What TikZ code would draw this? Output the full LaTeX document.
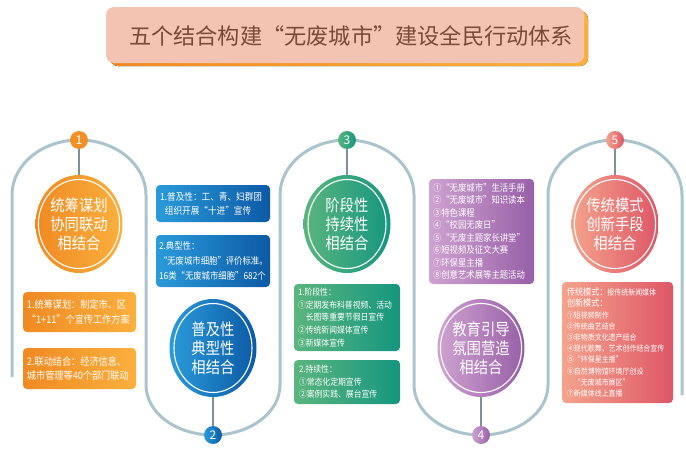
\documentclass[tikz,border=0pt]{standalone}
\usepackage{fontspec}
\setmainfont{Noto Sans CJK SC}
\newfontfamily\cjk[FakeStretch=0.88]{Noto Sans CJK SC}
\newfontfamily\cjkt{Noto Sans CJK SC}
\usetikzlibrary{shapes.geometric}
\definecolor{snakec}{HTML}{A9C4CC}
\definecolor{linkc}{HTML}{7F9196}
\definecolor{titlefill}{HTML}{F3C4B2}
\definecolor{titletext}{HTML}{7A4A38}
\definecolor{oraL}{HTML}{F08A22}
\definecolor{oraR}{HTML}{FAB03E}
\definecolor{bluL}{HTML}{2A9BDA}
\definecolor{bluR}{HTML}{0C5AA5}
\definecolor{grnL}{HTML}{5BB57E}
\definecolor{grnR}{HTML}{15967F}
\definecolor{purL}{HTML}{CFA2D0}
\definecolor{purR}{HTML}{9760A7}
\definecolor{redL}{HTML}{F4A38C}
\definecolor{redR}{HTML}{DE5767}
\tikzset{
  snake/.style={draw=snakec, line width=3pt},
  numc/.style={circle, minimum size=18pt, inner sep=0pt, text=white, font=\cjkt\fontsize{12}{12}\selectfont},
  bigc/.style={ellipse, minimum width=87pt, minimum height=98pt, inner sep=0pt},
  ring/.style={ellipse, draw=white, line width=1.1pt, minimum width=78pt, minimum height=89pt, inner sep=0pt, text=white, align=center, font=\cjk\fontsize{16.3}{18.8}\selectfont},
  box/.style={rounded corners=4pt, inner sep=0pt},
  btext/.style={anchor=west, text=white, align=left, inner sep=0pt},
  link/.style={draw=linkc, line width=1.2pt}
}
\begin{document}
\begin{tikzpicture}[x=1pt,y=-1pt]
\useasboundingbox (0,0) rectangle (686,455);
% title
\fill[left color=oraL, right color=oraR, rounded corners=8pt] (110,11) rectangle (588,66);
\node[box, rounded corners=8pt, fill=titlefill, minimum width=478pt, minimum height=56pt] (title) at (345,35) {};
\node[text=titletext, font=\cjkt\fontsize{22.2}{24}\selectfont, inner sep=0pt] at (351,36) {五个结合构建“无废城市”建设全民行动体系};
% snake line
\path[snake] (12,377) -- (12,195)
  arc[start angle=180, end angle=360, x radius=67, y radius=55]
  -- (146,385)
  arc[start angle=180, end angle=0, x radius=67, y radius=50]
  -- (280,195)
  arc[start angle=180, end angle=360, x radius=67, y radius=55]
  -- (414,385)
  arc[start angle=180, end angle=0, x radius=67, y radius=50]
  -- (548,195)
  arc[start angle=180, end angle=360, x radius=67, y radius=55]
  -- (682,395);
% number circles
\node[numc, fill=oraL!85!oraR] (n1) at (79,140) {1};
\node[numc, left color=bluL, right color=bluR] (n2) at (213,435) {2};
\node[numc, left color=grnL, right color=grnR] (n3) at (347,140) {3};
\node[numc, left color=purL, right color=purR] (n4) at (481,435) {4};
\node[numc, left color=redL, right color=redR] (n5) at (615,140) {5};
% big circles
\node[bigc, left color=oraL, right color=oraR] (c1) at (79,224) {};
\node[ring] at (c1) {统筹谋划\\协同联动\\相结合};
\node[bigc, left color=bluL, right color=bluR] (c2) at (213,348) {};
\node[ring] at (c2) {普及性\\典型性\\相结合};
\node[bigc, left color=grnL, right color=grnR] (c3) at (347,224) {};
\node[ring] at (c3) {阶段性\\持续性\\相结合};
\node[bigc, left color=purL, right color=purR] (c4) at (481,348) {};
\node[ring] at (c4) {教育引导\\氛围营造\\相结合};
\node[bigc, left color=redL, right color=redR] (c5) at (615,224) {};
\node[ring] at (c5) {传统模式\\创新手段\\相结合};
% links
\draw[link] (n1.south) -- (c1.north);
\draw[link] (c2.south) -- (n2.north);
\draw[link] (n3.south) -- (c3.north);
\draw[link] (c4.south) -- (n4.north);
\draw[link] (n5.south) -- (c5.north);
% column 1 boxes
\node[box, left color=oraL, right color=oraR, minimum width=113pt, minimum height=40pt] (b11) at (79.5,312) {};
\node[btext, font=\cjk\fontsize{10.4}{14.7}\selectfont] at ([xshift=4pt]b11.west) {1.统筹谋划：制定市、区\\“1+11”个宣传工作方案};
\node[box, left color=oraL, right color=oraR, minimum width=113pt, minimum height=41pt] (b12) at (79.5,368.5) {};
\node[btext, font=\cjk\fontsize{10.4}{14.7}\selectfont] at ([xshift=4pt]b12.west) {2.联动结合：经济信息、\\城市管理等40个部门联动};
% column 2 boxes
\node[box, left color=bluL, right color=bluR, minimum width=114pt, minimum height=37pt] (b21) at (213,203.5) {};
\node[btext, font=\cjk\fontsize{9.8}{14.3}\selectfont] at ([xshift=4pt]b21.west) {1.普及性：工、青、妇群团\\\hspace{0.5em}组织开展“十进”宣传};
\node[box, left color=bluL, right color=bluR, minimum width=114pt, minimum height=52pt] (b22) at (213,261) {};
\node[btext, font=\cjk\fontsize{9.5}{14.7}\selectfont] at ([xshift=3pt]b22.west) {2.典型性：\\“无废城市细胞”评价标准。\\16类“无废城市细胞”682个};
% column 3 boxes
\node[box, left color=grnL, right color=grnR, minimum width=106pt, minimum height=67pt] (b31) at (347,317.5) {};
\node[btext, font=\cjk\fontsize{8.9}{12.7}\selectfont] at ([xshift=4pt]b31.west) {1.阶段性：\\①定期发布科普视频、活动\\\phantom{①}长图等重要节假日宣传\\②传统新闻媒体宣传\\③新媒体宣传};
\node[box, left color=grnL, right color=grnR, minimum width=106pt, minimum height=44pt] (b32) at (347,382) {};
\node[btext, font=\cjk\fontsize{8.9}{12.5}\selectfont] at ([xshift=5pt]b32.west) {2.持续性：\\①常态化定期宣传\\②案例实践、展台宣传};
% column 4 box
\node[box, left color=purL, right color=purR, minimum width=105pt, minimum height=105pt] (b41) at (481.5,231.5) {};
\node[btext, font=\cjk\fontsize{9.5}{12.5}\selectfont] at ([xshift=4pt]b41.west) {①“无废城市”生活手册\\②“无废城市”知识读本\\③特色课程\\④“校园无废日”\\⑤“无废主题家长讲堂”\\⑥短视频及征文大赛\\⑦环保星主播\\⑧创意艺术展等主题活动};
% column 5 box
\node[box, left color=redL, right color=redR, minimum width=111pt, minimum height=121pt] (b51) at (617.5,342.5) {};
\node[btext, font=\cjk\fontsize{7.9}{11.2}\selectfont] at ([xshift=5pt]b51.west) {{\fontsize{9.2}{12}\selectfont 传统模式：}报传统新闻媒体\\{\fontsize{9.2}{12}\selectfont 创新模式：}\\①短视频制作\\②传统曲艺结合\\③非物质文化遗产结合\\④现代歌舞、艺术创作结合宣传\\⑤“环保星主播”\\⑥自然博物馆环境厅创设\\\phantom{⑥}“无废城市展区”\\⑦新媒体线上直播};
\end{tikzpicture}
\end{document}
